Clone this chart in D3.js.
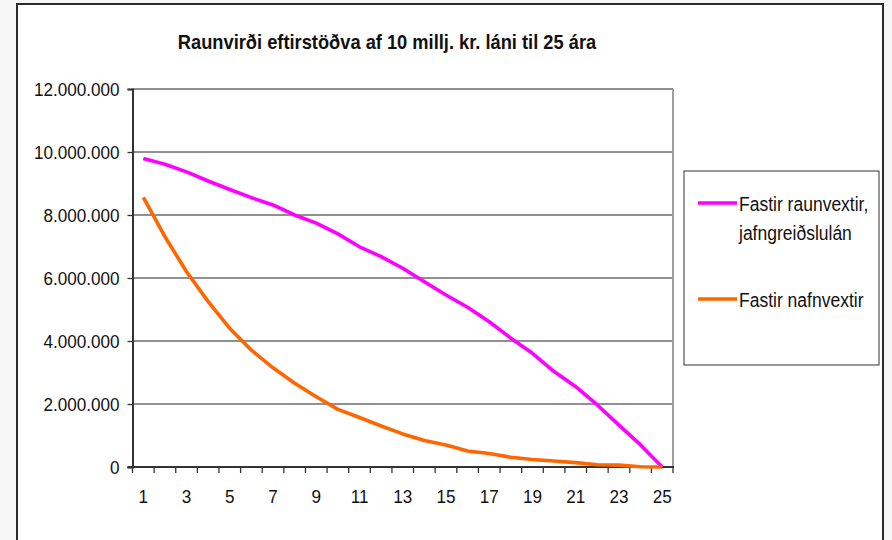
<!DOCTYPE html>
<html>
<head>
<meta charset="utf-8">
<script src="https://cdn.jsdelivr.net/npm/d3@7"></script>
<style>
  html, body { margin: 0; padding: 0; background: #f6f6f6; }
  svg { display: block; }
  text { font-family: "Liberation Sans", Arial, sans-serif; fill: #111; }
</style>
</head>
<body>
<svg id="chart" width="892" height="540"></svg>
<script>
const titleText = "Raunvirði eftirstöðva af 10 millj. kr. láni til 25 ára";
const years = d3.range(1, 26);
const seriesNames = ["Fastir raunvextir,|jafngreiðslulán", "Fastir nafnvextir"];
const seriesColors = ["#ff00ff", "#ff6600"];
const realRate = [9790000, 9610000, 9370000, 9080000, 8810000, 8550000, 8320000, 8000000, 7740000, 7400000,
                  6990000, 6680000, 6310000, 5880000, 5460000, 5070000, 4610000, 4090000, 3610000, 3030000,
                  2550000, 1970000, 1330000, 700000, 0];
const nominalRate = [8560000, 7310000, 6200000, 5250000, 4400000, 3710000, 3150000, 2660000, 2230000, 1830000,
                     1570000, 1300000, 1050000, 840000, 700000, 510000, 430000, 310000, 240000, 190000,
                     140000, 70000, 60000, 10000, 0];
const yTicks = [0, 2000000, 4000000, 6000000, 8000000, 10000000, 12000000];
const yMax = 12000000;

const svg = d3.select("#chart");

function condenseText(sel, k) {
  sel.each(function () {
    const t = d3.select(this);
    if (!t.text()) return;
    const w = this.getComputedTextLength();
    t.attr("textLength", w * k).attr("lengthAdjust", "spacingAndGlyphs");
  });
}

// outer frame
svg.append("rect").attr("x", 17).attr("y", 4).attr("width", 866).attr("height", 560)
  .attr("fill", "#fff").attr("stroke", "#2a2a2a").attr("stroke-width", 2);

const plot = { left: 132.5, right: 673, top: 89, bottom: 467 };

const x = d3.scaleBand().domain(years).range([plot.left, plot.right]).padding(0);
const y = d3.scaleLinear().domain([0, yMax]).range([plot.bottom, plot.top]);

// gridlines
svg.append("g").selectAll("line").data(yTicks.filter(d => d > 0)).join("line")
  .attr("x1", plot.left).attr("x2", plot.right)
  .attr("y1", d => y(d)).attr("y2", d => y(d))
  .attr("stroke", "#222").attr("stroke-width", 1);

// right plot border
svg.append("line").attr("x1", plot.right).attr("x2", plot.right)
  .attr("y1", plot.top).attr("y2", plot.bottom).attr("stroke", "#a0a0a0").attr("stroke-width", 2);

// y axis
const fmt = d => d === 0 ? "0" : d3.format(",")(d).replace(/,/g, ".");
const yAxis = svg.append("g").attr("transform", `translate(${plot.left},0)`)
  .call(d3.axisLeft(y).tickValues(yTicks).tickFormat(fmt).tickSize(5).tickPadding(8));
yAxis.select(".domain").attr("stroke", "#333").attr("stroke-width", 2);
yAxis.selectAll(".tick line").attr("stroke", "#333").attr("stroke-width", 1.3);
yAxis.selectAll("text").attr("font-size", 19).attr("fill", "#111")
  .attr("font-family", "Liberation Sans, Arial, sans-serif");
condenseText(yAxis.selectAll("text"), 0.9);

// x axis
const xAxis = svg.append("g").attr("transform", `translate(0,${plot.bottom})`)
  .call(d3.axisBottom(x).tickSize(0).tickPadding(23).tickFormat(d => d % 2 === 1 ? d : ""));
xAxis.select(".domain").remove();
xAxis.selectAll("text").attr("font-size", 19).attr("fill", "#111")
  .attr("font-family", "Liberation Sans, Arial, sans-serif");
condenseText(xAxis.selectAll("text"), 0.9);
svg.append("line").attr("x1", plot.left - 5).attr("x2", plot.right + 1)
  .attr("y1", plot.bottom).attr("y2", plot.bottom).attr("stroke", "#333").attr("stroke-width", 2);
const edges = years.map(d => x(d)).concat([x(years[years.length - 1]) + x.bandwidth()]);
svg.append("g").selectAll("line").data(edges).join("line")
  .attr("x1", d => d).attr("x2", d => d)
  .attr("y1", plot.bottom).attr("y2", plot.bottom + 6)
  .attr("stroke", "#333").attr("stroke-width", 1.3);

// lines
const line = d3.line().x((d, i) => x(years[i]) + x.bandwidth() / 2).y(d => y(d));
[realRate, nominalRate].forEach((s, i) => {
  svg.append("path").datum(s).attr("d", line).attr("fill", "none")
    .attr("stroke", seriesColors[i]).attr("stroke-width", 3.6)
    .attr("stroke-linejoin", "round").attr("stroke-linecap", "butt");
});

// title
const title = svg.append("text").attr("x", 387).attr("y", 49)
  .attr("text-anchor", "middle").attr("font-size", 21).attr("font-weight", "bold").text(titleText);
condenseText(title, 0.87);

// legend
svg.append("rect").attr("x", 684).attr("y", 171).attr("width", 195).attr("height", 194)
  .attr("fill", "#fff").attr("stroke", "#333").attr("stroke-width", 1);
const legendY = [203, 299];
seriesNames.forEach((name, i) => {
  svg.append("line").attr("x1", 698).attr("x2", 737)
    .attr("y1", legendY[i]).attr("y2", legendY[i])
    .attr("stroke", seriesColors[i]).attr("stroke-width", 3.6);
  name.split("|").forEach((part, j) => {
    const t = svg.append("text").attr("x", 739).attr("y", legendY[i] + 8 + j * 29)
      .attr("font-size", 20).text(part);
    condenseText(t, 0.875);
  });
});
</script>
</body>
</html>
